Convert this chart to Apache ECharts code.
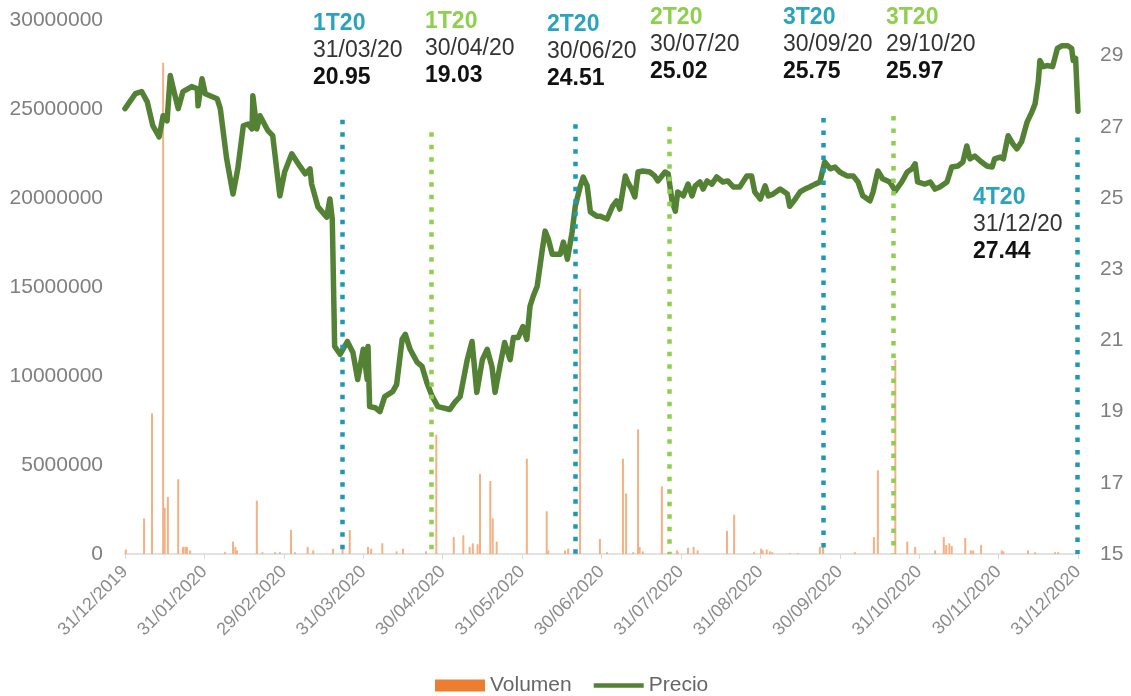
<!DOCTYPE html>
<html>
<head>
<meta charset="utf-8">
<script src="https://cdn.jsdelivr.net/npm/echarts@6/dist/echarts.min.js"></script>
<style>
  html, body { margin: 0; background: #fff; }
  #chart { width: 1131px; height: 696px; }
</style>
</head>
<body>
<div id="chart"></div>
<script>
// x values are in months since 31/12/2019 (0 = 31/12/2019, 12 = 31/12/2020)
var monthLabels = ['31/12/2019', '31/01/2020', '29/02/2020', '31/03/2020', '30/04/2020', '31/05/2020',
  '30/06/2020', '31/07/2020', '31/08/2020', '30/09/2020', '31/10/2020', '30/11/2020', '31/12/2020'];

var priceX = [
  0.00, 0.13, 0.21, 0.28, 0.35, 0.43, 0.48, 0.53, 0.57, 0.60,
  0.67, 0.73, 0.84, 0.91, 0.92, 0.97, 1.01, 1.16, 1.20, 1.28,
  1.36, 1.42, 1.49, 1.55, 1.60, 1.61, 1.66, 1.70, 1.74, 1.80,
  1.86, 1.95, 2.01, 2.10, 2.20, 2.27, 2.33, 2.35, 2.43, 2.54,
  2.58, 2.61, 2.64, 2.71, 2.80, 2.87, 2.93, 3.00, 3.05, 3.06,
  3.08, 3.15, 3.21, 3.27, 3.37, 3.42, 3.49, 3.53, 3.59, 3.68,
  3.74, 3.80, 3.87, 3.94, 4.09, 4.16, 4.22, 4.31, 4.37, 4.43,
  4.50, 4.56, 4.62, 4.66, 4.72, 4.78, 4.85, 4.89, 4.95, 5.01,
  5.06, 5.10, 5.14, 5.19, 5.25, 5.29, 5.33, 5.38, 5.48, 5.52,
  5.57, 5.63, 5.67, 5.73, 5.77, 5.82, 5.86, 5.94, 5.98, 6.07,
  6.14, 6.19, 6.23, 6.30, 6.33, 6.38, 6.42, 6.46, 6.52, 6.61,
  6.67, 6.71, 6.80, 6.84, 6.89, 6.93, 6.96, 7.03, 7.09, 7.14,
  7.18, 7.24, 7.28, 7.33, 7.39, 7.45, 7.53, 7.59, 7.66, 7.74,
  7.83, 7.89, 7.93, 8.00, 8.06, 8.10, 8.16, 8.25, 8.34, 8.37,
  8.44, 8.50, 8.56, 8.62, 8.69, 8.75, 8.78, 8.81, 8.88, 8.94,
  9.00, 9.09, 9.17, 9.23, 9.29, 9.38, 9.42, 9.48, 9.54, 9.63,
  9.70, 9.78, 9.85, 9.91, 9.95, 9.98, 10.07, 10.14, 10.20, 10.26,
  10.35, 10.41, 10.49, 10.55, 10.60, 10.64, 10.70, 10.77, 10.85, 10.92,
  10.95, 11.02, 11.06, 11.12, 11.18, 11.23, 11.29, 11.36, 11.42, 11.46,
  11.50, 11.52, 11.56, 11.61, 11.68, 11.74, 11.80, 11.87, 11.92, 11.94,
  11.97, 12.00
];
var priceY = [
  27.51, 27.93, 27.99, 27.70, 27.03, 26.72, 27.31, 27.17, 28.44, 28.15,
  27.51, 27.99, 28.13, 28.07, 27.59, 28.35, 27.93, 27.79, 27.51, 26.10,
  25.11, 25.82, 27.03, 27.08, 26.94, 27.87, 26.94, 27.31, 27.14, 26.89,
  26.75, 25.06, 25.73, 26.24, 25.90, 25.68, 25.82, 25.39, 24.75, 24.46,
  24.97, 24.41, 20.83, 20.61, 20.97, 20.66, 19.90, 20.75, 19.90, 20.83,
  19.14, 19.11, 19.00, 19.42, 19.56, 19.76, 21.03, 21.17, 20.75, 20.38,
  20.27, 19.82, 19.42, 19.14, 19.06, 19.28, 19.42, 20.46, 20.97, 19.54,
  20.46, 20.75, 20.27, 19.54, 20.27, 20.94, 20.46, 21.08, 21.08, 21.39,
  21.03, 21.96, 22.24, 22.52, 23.48, 24.07, 23.85, 23.42, 23.42, 23.76,
  23.28, 24.04, 24.77, 25.31, 25.59, 25.34, 24.61, 24.49, 24.49, 24.41,
  24.77, 24.92, 24.69, 25.62, 25.45, 25.25, 25.03, 25.73, 25.76, 25.73,
  25.62, 25.48, 25.73, 25.68, 24.89, 24.63, 25.17, 25.06, 25.39, 25.06,
  25.34, 25.45, 25.25, 25.48, 25.39, 25.59, 25.45, 25.48, 25.31, 25.31,
  25.62, 25.62, 25.17, 24.97, 25.34, 25.06, 25.11, 25.25, 25.11, 24.77,
  24.97, 25.17, 25.25, 25.31, 25.39, 25.45, 25.73, 26.01, 25.82, 25.87,
  25.73, 25.62, 25.62, 25.45, 25.06, 24.92, 25.17, 25.76, 25.54, 25.45,
  25.20, 25.45, 25.73, 25.82, 25.96, 25.45, 25.39, 25.45, 25.25, 25.31,
  25.45, 25.87, 25.90, 26.01, 26.46, 26.10, 26.18, 26.04, 25.90, 25.87,
  26.10, 26.15, 26.10, 26.75, 26.52, 26.38, 26.58, 27.14, 27.42, 27.65,
  28.27, 28.86, 28.69, 28.72, 28.69, 29.20, 29.28, 29.28, 29.20, 28.86,
  28.92, 27.44
];

var volX = [
  0.01, 0.24, 0.34, 0.48, 0.50, 0.54, 0.67, 0.73, 0.76, 0.78,
  0.82, 1.26, 1.36, 1.39, 1.41, 1.66, 1.73, 1.89, 1.95, 2.09,
  2.14, 2.30, 2.37, 2.62, 2.74, 2.83, 3.06, 3.10, 3.24, 3.42,
  3.50, 3.79, 3.92, 4.14, 4.26, 4.34, 4.38, 4.44, 4.47, 4.60,
  4.63, 4.68, 5.06, 5.31, 5.33, 5.54, 5.58, 5.73, 5.98, 6.07,
  6.27, 6.31, 6.40, 6.46, 6.48, 6.52, 6.76, 6.95, 6.96, 7.09,
  7.16, 7.21, 7.58, 7.67, 7.92, 8.01, 8.03, 8.08, 8.12, 8.15,
  8.37, 8.47, 8.75, 8.79, 9.19, 9.43, 9.48, 9.70, 9.85, 9.95,
  10.20, 10.31, 10.34, 10.38, 10.41, 10.58, 10.65, 10.68, 10.78, 11.04,
  11.06, 11.37, 11.46, 11.71, 11.75
];
var volY = [
  250000, 2000000, 7900000, 27600000, 2600000, 3200000, 4200000, 400000, 400000, 400000,
  200000, 100000, 700000, 400000, 200000, 3000000, 100000, 100000, 100000, 1350000,
  100000, 400000, 200000, 300000, 400000, 1350000, 400000, 300000, 600000, 150000,
  300000, 150000, 6700000, 950000, 1050000, 400000, 600000, 550000, 4500000, 4100000,
  2000000, 700000, 5350000, 2400000, 200000, 200000, 300000, 14900000, 850000, 100000,
  5350000, 3400000, 100000, 7000000, 400000, 150000, 3800000, 200000, 100000, 350000,
  400000, 200000, 1300000, 2200000, 100000, 300000, 200000, 250000, 150000, 100000,
  50000, 50000, 400000, 500000, 100000, 950000, 4700000, 10900000, 700000, 400000,
  200000, 950000, 500000, 600000, 450000, 900000, 200000, 200000, 500000, 200000,
  150000, 200000, 100000, 100000, 100000
];

var quarterNames = ['1T20', '1T20', '2T20', '2T20', '3T20', '3T20', '4T20'];
var quarterDates = ['31/03/20', '30/04/20', '30/06/20', '30/07/20', '30/09/20', '29/10/20', '31/12/20'];
var quarterPrices = ['20.95', '19.03', '24.51', '25.02', '25.75', '25.97', '27.44'];
// 'c' = quarter close (teal), 'n' = one month later (green)
var quarterKind = ['c', 'n', 'c', 'n', 'c', 'n', 'c'];
var quarterLineX = [2.73, 3.86, 5.67, 6.85, 8.79, 9.67, 11.99];
var quarterLineTop = [24400000, 23700000, 24150000, 24000000, 24500000, 24600000, 23400000];

var TEAL = '#1C9AB5', LIGHTGREEN = '#8ED04E';
var FONT = '"Liberation Sans", Arial, sans-serif';

// text blocks placed by hand, like the boxes in the original
var labelPos = [[313, 12], [425, 10], [547, 13], [650, 6], [783, 6], [886, 6], [973, 186]];

var chart = echarts.init(document.getElementById('chart'));

var markData = quarterLineX.map(function (x, i) {
  return [
    { coord: [x, quarterLineTop[i]],
      lineStyle: { color: quarterKind[i] === 'c' ? TEAL : LIGHTGREEN, width: 4.5, type: [4.5, 8], cap: 'butt' } },
    { coord: [x, 0] }
  ];
});

var texts = quarterNames.map(function (n, i) {
  var tag = quarterKind[i] === 'c' ? 't' : 'g';
  return {
    type: 'text',
    left: labelPos[i][0],
    top: labelPos[i][1],
    silent: true,
    style: {
      text: '{' + tag + '|' + n + '}\n{d|' + quarterDates[i] + '}\n{v|' + quarterPrices[i] + '}',
      rich: {
        t: { fill: '#2AA3C0', fontSize: 23, fontWeight: 'bold', fontFamily: FONT, lineHeight: 27 },
        g: { fill: LIGHTGREEN, fontSize: 23, fontWeight: 'bold', fontFamily: FONT, lineHeight: 27 },
        d: { fill: '#333333', fontSize: 23, fontFamily: FONT, lineHeight: 27 },
        v: { fill: '#111111', fontSize: 23, fontWeight: 'bold', fontFamily: FONT, lineHeight: 27 }
      }
    }
  };
});

chart.setOption({
  animation: false,
  textStyle: { fontFamily: FONT },
  grid: { left: 125, right: 53, top: 20, bottom: 142 },
  legend: {
    left: 430,
    top: 670,
    itemWidth: 50,
    itemHeight: 12,
    itemGap: 22,
    textStyle: { fontSize: 21, color: '#666666' },
    data: [
      { name: 'Volumen', icon: 'rect', itemStyle: { color: '#ED7D31' } },
      { name: 'Precio', icon: 'path://M0,0H54V5H0Z', itemStyle: { color: '#548235' } }
    ]
  },
  xAxis: {
    type: 'value',
    min: 0,
    max: 12,
    interval: 1,
    splitLine: { show: false },
    axisLine: { lineStyle: { color: '#D9D9D9', width: 1.5 } },
    axisTick: { show: true, length: 5, lineStyle: { color: '#D9D9D9' } },
    axisLabel: {
      rotate: 45,
      margin: 15,
      fontSize: 18,
      color: '#8C8C8C',
      formatter: function (v) { return monthLabels[Math.round(v)]; }
    }
  },
  yAxis: [
    {
      type: 'value',
      min: 0,
      max: 30000000,
      interval: 5000000,
      splitLine: { show: false },
      axisLine: { show: false },
      axisTick: { show: false },
      axisLabel: {
        fontSize: 21, color: '#7F7F7F', margin: 22,
        formatter: function (v) { return String(v); }
      }
    },
    {
      type: 'value',
      position: 'right',
      min: 15,
      max: 30,
      interval: 2,
      splitLine: { show: false },
      axisLine: { show: false },
      axisTick: { show: false },
      axisLabel: {
        fontSize: 21, color: '#7F7F7F', margin: 22,
        formatter: function (v) { return v === 30 ? '' : String(v); }
      }
    }
  ],
  graphic: texts,
  series: [
    {
      name: 'Volumen',
      type: 'bar',
      yAxisIndex: 0,
      barWidth: 2,
      itemStyle: { color: '#F4B183' },
      data: volX.map(function (x, i) { return [x, volY[i]]; }),
      markLine: {
        silent: true,
        symbol: ['none', 'none'],
        label: { show: false },
        emphasis: { disabled: true },
        data: markData
      },
      z: 1
    },
    {
      name: 'Precio',
      type: 'line',
      yAxisIndex: 1,
      symbol: 'none',
      itemStyle: { color: '#548235' },
      lineStyle: { color: '#548235', width: 5.5, join: 'round', cap: 'round' },
      data: priceX.map(function (x, i) { return [x, priceY[i]]; }),
      z: 3
    }
  ]
});

window.addEventListener('resize', function () {
  chart.resize();
});
</script>
</body>
</html>
